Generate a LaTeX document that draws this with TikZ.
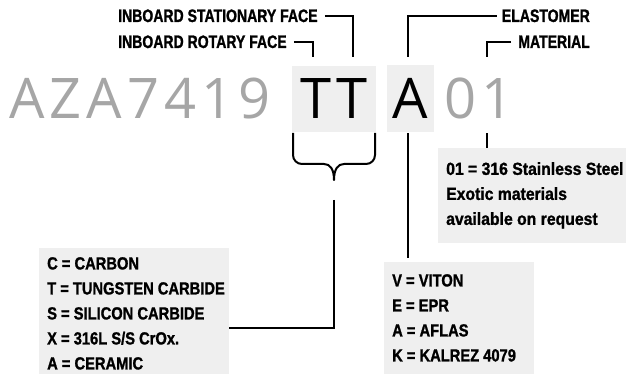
\documentclass[tikz,border=0pt]{standalone}
\usepackage{fontspec}
\setmainfont{Liberation Sans}
\newfontfamily\bigf{Open Sans}
\newfontfamily\labf[FakeStretch=0.78,FakeBold=1.2]{Liberation Sans Bold}
\newfontfamily\listf[FakeStretch=0.84,FakeBold=1.2]{Liberation Sans Bold}
\newfontfamily\notef[FakeStretch=0.9,FakeBold=1.2]{Liberation Sans Bold}
\definecolor{panelgray}{HTML}{EFEFEF}
\definecolor{codegray}{HTML}{A6A6A6}
\begin{document}
\begin{tikzpicture}[x=1pt,y=-1pt,
  lab/.style={font=\labf\fontsize{18}{20}\selectfont, inner sep=0pt},
  panel/.style={fill=panelgray, draw=none, inner sep=0pt, anchor=north west},
  list/.style={font=\listf\fontsize{17.5}{25}\selectfont, align=left, inner sep=0pt, anchor=north west},
  note/.style={font=\notef\fontsize{17.5}{25}\selectfont, align=left, inner sep=0pt, anchor=north west},
  big/.style={font=\bigf\fontsize{56}{60}\selectfont, inner sep=0pt},
  hl/.style={big, fill=panelgray, text=black},
  conn/.style={line width=2pt, line join=miter, draw=black}]
\useasboundingbox (0,0) rectangle (626,374);

% code string
\node[big, text=codegray, anchor=base west] (pre) at (9,119) {A\kern5pt Z\kern5pt A\kern5pt 7\kern5pt 4\kern5pt 1\kern5pt 9};
\node[hl, minimum width=84pt, minimum height=66pt] (tt) at (334,99) {T\kern5pt T};
\node[hl, minimum width=47pt, minimum height=67pt] (ab) at (410.5,98.5) {A};
\node[big, text=codegray, anchor=base west] (suf) at (444,119) {0\kern5pt 1};

% top labels
\node[lab, anchor=base west] (stat) at (118,22) {INBOARD STATIONARY FACE};
\node[lab, anchor=base west] (rot) at (118,48) {INBOARD ROTARY FACE};
\node[lab, anchor=base east] (elas) at (590,22) {ELASTOMER};
\node[lab, anchor=base east] (mat) at (590,48) {MATERIAL};

\coordinate (ks) at (353,57);
\coordinate (kr) at (313,57);
\coordinate (ke) at (408,57);
\coordinate (km) at (487,57);

\draw[conn] ([xshift=7pt]stat.east) -| (ks);
\draw[conn] ([xshift=7pt]rot.east) -| (kr);
\draw[conn] ([xshift=-5pt]elas.west) -| (ke);
\draw[conn] ([xshift=-7pt]mat.west) -| (km);

% panels
\node[panel, minimum width=190pt, minimum height=126pt] (cb) at (39,248) {};
\node[panel, minimum width=150pt, minimum height=112pt] (vb) at (384,262) {};
\node[panel, minimum width=188pt, minimum height=95pt] (ob) at (438,148) {};

\node[list] (ct) at (47,257) {C = CARBON\\T = TUNGSTEN CARBIDE\\S = SILICON CARBIDE\\X = 316L S/S CrOx.\\A = CERAMIC};
\node[list] (vt) at (392,274) {V = VITON\\E = EPR\\A = AFLAS\\K = KALREZ 4079};
\node[note] (ot) at (446,162) {01 = 316 Stainless Steel\\Exotic materials\\available on request};

% lower connectors
\draw[conn] ([yshift=-1pt]ab.south -| ke) -- ([yshift=4pt]vb.north -| ke);
\draw[conn] ([yshift=-1pt]ab.south -| km) -- (ob.north -| km);

% brace under TT
\draw[conn, line join=round] (293,133) -- (293,155) .. controls (293,160) and (297,164) .. (302,164)
  -- (324,164) .. controls (330,164) and (334,169) .. (334,180)
  .. controls (334,169) and (338,164) .. (344,164) -- (366,164)
  .. controls (371,164) and (375,160) .. (375,155) -- (375,133);

\coordinate (bt) at (334,200);
\draw[conn] (bt) |- ([yshift=-17pt]cb.east);
\end{tikzpicture}
\end{document}
